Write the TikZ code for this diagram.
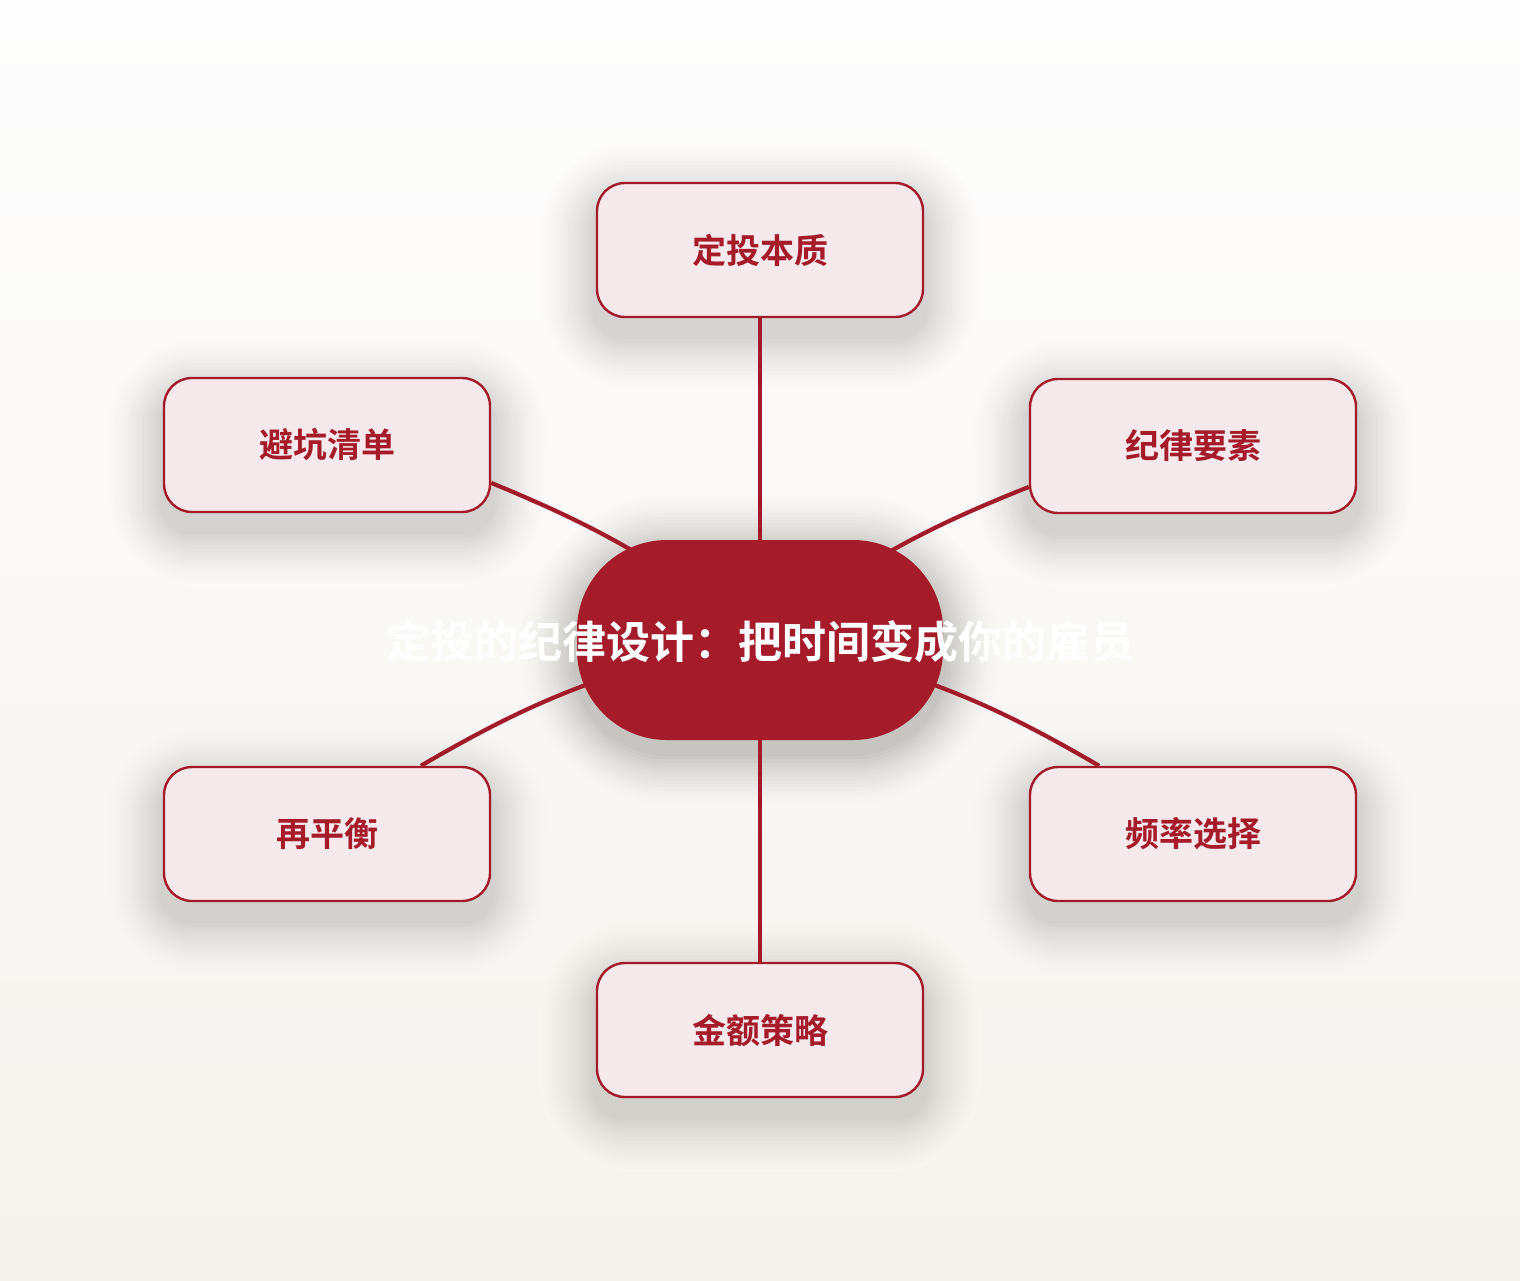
\documentclass[tikz,border=0pt]{standalone}
\usepackage{fontspec}
\setmainfont{Noto Sans CJK SC}[BoldFont={Noto Sans CJK SC Bold}]

\definecolor{hubred}{HTML}{A51B2A}
\definecolor{boxfill}{HTML}{F5E9EB}
\definecolor{linered}{HTML}{A31A2A}
\definecolor{bgtop}{HTML}{FDFDFD}
\definecolor{bgbottom}{HTML}{F6F3EE}
\definecolor{shadowink}{HTML}{6E6B66}

\pgfdeclarelayer{bg}
\pgfdeclarelayer{edges}
\pgfsetlayers{bg,edges,main}

\tikzset{
  topic/.style={draw=linered, line width=1.2pt, fill=boxfill, rounded corners=14pt,
    minimum width=163pt, minimum height=67pt, inner sep=0pt, text=hubred,
    font=\fontsize{17}{20}\selectfont\bfseries},
  hub/.style={fill=hubred, rounded corners=45pt, minimum width=183pt, minimum height=100pt,
    inner sep=0pt},
  title/.style={text=white, font=\fontsize{22}{26}\selectfont\bfseries, inner sep=0pt},
  spoke/.style={draw=linered, line width=2.1pt},
}

% soft shadow: node, corner radius (pt), drop (px), strength, base colour
\newcommand\softshadow[5]{%
  \colorlet{shadowbase}{#5}%
  \foreach \i in {16,...,1} {
    \pgfmathsetmacro\rr{#2+\i*2}
    \pgfmathsetmacro\kk{#4*((17-\i)/16)^1.5}
    \fill[shadowink!\kk!shadowbase, rounded corners=\rr pt]
      ([shift={(-\i*3.5,-\i*3.5+#3)}]#1.north west) rectangle ([shift={(\i*3.5,\i*3.5+#3)}]#1.south east);
  }}

\begin{document}
\begin{tikzpicture}[x=0.5pt, y=-0.5pt]
        \useasboundingbox (0,0) rectangle (1520,1280);

        \node[hub] (hub) at (760,640) {};
        \node[title] (title) at (760,642) {定投的纪律设计：把时间变成你的雇员};

        \node[topic] (essence) at (760,250) {定投本质};
        \node[topic] (pitfalls) at (327,445) {避坑清单};
        \node[topic] (discipline) at (1193,446) {纪律要素};
        \node[topic] (rebalance) at (327,834) {再平衡};
        \node[topic] (frequency) at (1193,834) {频率选择};
        \node[topic] (amount) at (760,1030) {金额策略};

        \begin{pgfonlayer}{bg}
            \shade[top color=bgtop, bottom color=bgbottom] (0,0) rectangle (1520,1280);
            \softshadow{hub}{45}{12}{36}{bgbottom!50!bgtop}
            \softshadow{essence}{14}{18}{27}{bgbottom!22!bgtop}
            \softshadow{pitfalls}{14}{18}{27}{bgbottom!35!bgtop}
            \softshadow{discipline}{14}{18}{27}{bgbottom!35!bgtop}
            \softshadow{rebalance}{14}{18}{27}{bgbottom!65!bgtop}
            \softshadow{frequency}{14}{18}{27}{bgbottom!65!bgtop}
            \softshadow{amount}{14}{18}{27}{bgbottom!80!bgtop}
        \end{pgfonlayer}

        \begin{pgfonlayer}{edges}
            \draw[spoke] (hub.center) -- (essence);
            \draw[spoke] (hub.center) to[bend right=8] (pitfalls.-13.5); % upper left
            \draw[spoke] (hub.center) to[bend left=8] (discipline.-166); % upper right
            \draw[spoke] (hub.center) to[bend right=10] (rebalance.36); % lower left
            \draw[spoke] (hub.center) to[bend left=10] (frequency.144); % lower right
            \draw[spoke] (hub.center) -- (amount);
        \end{pgfonlayer}
    \end{tikzpicture}
\end{document}
